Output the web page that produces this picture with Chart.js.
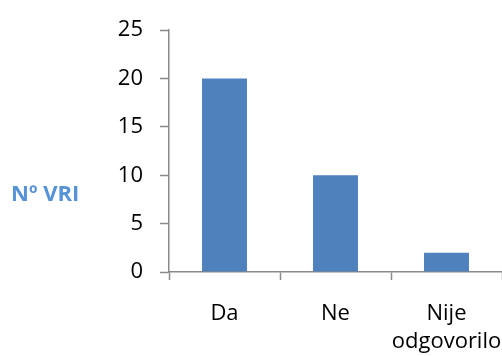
<!DOCTYPE html>
<html>
<head>
<meta charset="utf-8">
<script src="https://cdn.jsdelivr.net/npm/chart.js@4/dist/chart.umd.min.js"></script>
<style>
  html, body { margin: 0; padding: 0; background: #ffffff; overflow: hidden; }
  #wrap { width: 502px; height: 356px; position: relative; }
</style>
</head>
<body>
<div id="wrap"><canvas id="chart" width="502" height="356"></canvas></div>
<script>
// Survey answers and their counts
const categories = [["Da"], ["Ne"], ["Nije", "odgovorilo"]];
const counts = [20, 10, 2];
const yTicks = [0, 5, 10, 15, 20, 25];
const yTitle = "Nº VRI";

const AXIS_GREY = "#8a8a8a";
const FONT = "'Open Sans', 'Noto Sans', sans-serif";

// Horizontal axis title drawn beside the value axis
const sideTitle = {
  id: "sideTitle",
  afterDraw(chart) {
    const ctx = chart.ctx;
    ctx.save();
    ctx.font = "bold 22px " + FONT;
    ctx.fillStyle = "#5592d6";
    ctx.textAlign = "left";
    ctx.textBaseline = "middle";
    ctx.fillText(yTitle, 11, 195);
    ctx.restore();
  }
};

new Chart(document.getElementById("chart"), {
  type: "bar",
  data: {
    labels: categories,
    datasets: [{
      data: counts,
      backgroundColor: "#4f81bd",
      borderWidth: 0,
      categoryPercentage: 1,
      barPercentage: 0.405
    }]
  },
  options: {
    responsive: false,
    animation: false,
    devicePixelRatio: 1,
    layout: { padding: { top: 25, right: 0, bottom: 0, left: 0 } },
    plugins: {
      legend: { display: false },
      tooltip: { enabled: false }
    },
    scales: {
      x: {
        offset: true,
        grid: {
          offset: true,
          drawOnChartArea: false,
          drawTicks: true,
          tickLength: 8,
          tickColor: AXIS_GREY,
          tickWidth: 1.5
        },
        border: { color: AXIS_GREY, width: 1.5 },
        ticks: {
          color: "#000000",
          padding: 19,
          maxRotation: 0,
          autoSkip: false,
          font: { family: FONT, size: 22, lineHeight: 1.3 }
        },
        afterFit(scale) {
          scale.height = 84;
          scale.paddingLeft = 0;
          scale.paddingRight = 0;
        }
      },
      y: {
        min: 0,
        max: 25,
        grid: {
          drawOnChartArea: false,
          drawTicks: true,
          tickLength: 9,
          tickColor: AXIS_GREY,
          tickWidth: 1.5
        },
        border: { color: AXIS_GREY, width: 1.5 },
        afterBuildTicks(scale) {
          scale.ticks = yTicks.map(v => ({ value: v }));
        },
        ticks: {
          color: "#000000",
          padding: 17,
          font: { family: FONT, size: 22 }
        },
        afterFit(scale) {
          scale.width = 169;
        }
      }
    }
  },
  plugins: [sideTitle]
});
</script>
</body>
</html>
